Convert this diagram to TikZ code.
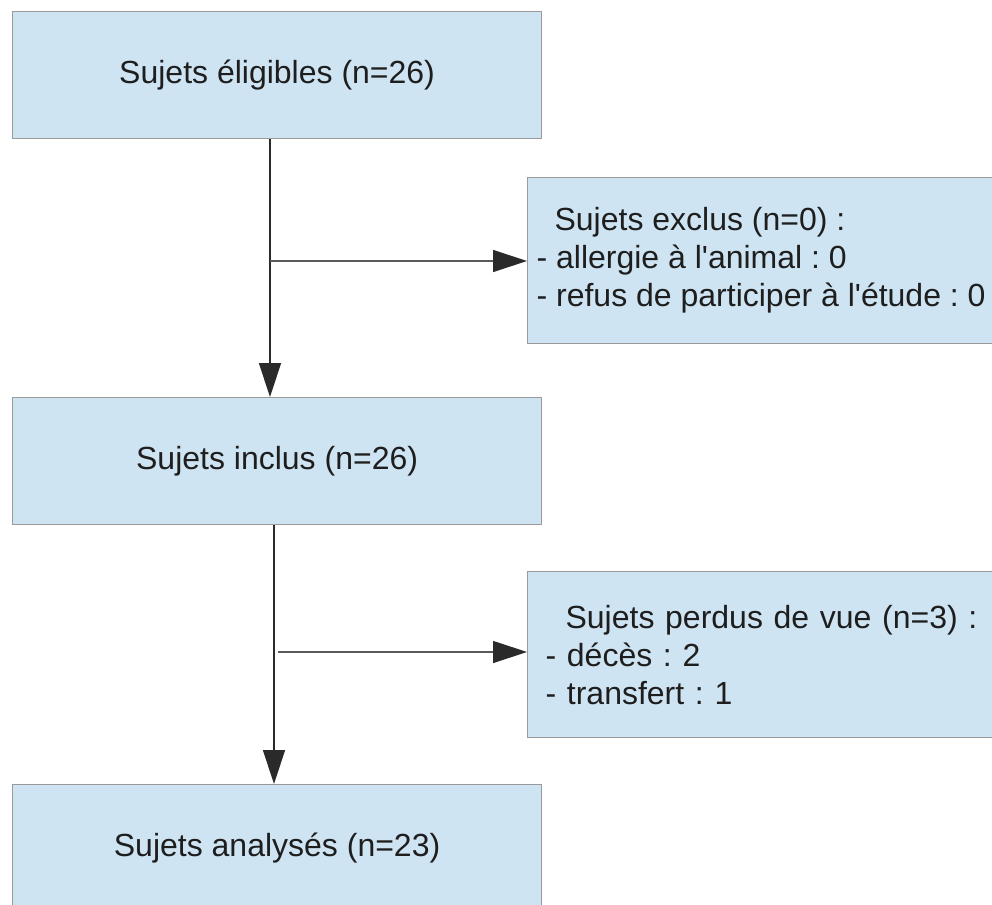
\documentclass[tikz,border=0pt]{standalone}
\usepackage{fontspec}
\setmainfont{Liberation Sans}[Ligatures=TeXOff]
\usetikzlibrary{arrows.meta}
\definecolor{boxfill}{HTML}{CFE4F2}
\definecolor{boxline}{HTML}{9A9A9A}
\definecolor{txt}{HTML}{1E1E1E}
\definecolor{vl}{HTML}{2A2A2A}
\definecolor{hl}{HTML}{5A5A5A}
\tikzset{
  mainbox/.style={draw=boxline, line width=1.2pt, fill=boxfill, rectangle,
    minimum width=529pt, minimum height=127pt, inner sep=0pt, text=txt,
    font=\fontsize{32}{38}\selectfont, anchor=north west},
  sidebox/.style={draw=boxline, line width=1.2pt, fill=boxfill, rectangle,
    minimum width=467pt, minimum height=166pt, inner sep=0pt, text=txt,
    font=\fontsize{32}{38}\selectfont, align=left, anchor=north west},
  vconn/.style={draw=vl, line width=1.4pt, -{Triangle[length=34pt,width=22pt]}},
  hconn/.style={draw=hl, line width=1.2pt, -{Triangle[length=34pt,width=22pt,color=vl]}}
}
\begin{document}
\frenchspacing
\begin{tikzpicture}[x=1pt,y=-1pt]
\useasboundingbox (0,0) rectangle (992,904);
\node[mainbox] (b1) at (12,11) {Sujets éligibles (n=26)};
\node[sidebox] (b2) at (527,177)
  {\hspace*{18pt}Sujets exclus (n=0) :\\- allergie à l'animal : 0\\- refus de participer à l'étude : 0};
\node[mainbox] (b3) at (12,397) {Sujets inclus (n=26)};
\node[sidebox, inner xsep=18pt, text width=460pt] (b4) at (527,571)
  {\hspace*{20pt}Sujets perdus de vue (n=3) :\\- décès : 2\\- transfert : 1};
\node[mainbox] (b5) at (12,784) {Sujets analysés (n=23)};
\coordinate (j1) at (270,261);
\coordinate (j2) at (274,652);
\coordinate (k2) at (278,652);
\draw[vconn] (b1.south -| j1) -- (b3.north -| j1);
\draw[hconn] (j1) -- (j1 -| b2.west);
\draw[vconn] (b3.south -| j2) -- (b5.north -| j2);
\draw[hconn] (k2) -- (k2 -| b4.west);
\end{tikzpicture}
\end{document}
